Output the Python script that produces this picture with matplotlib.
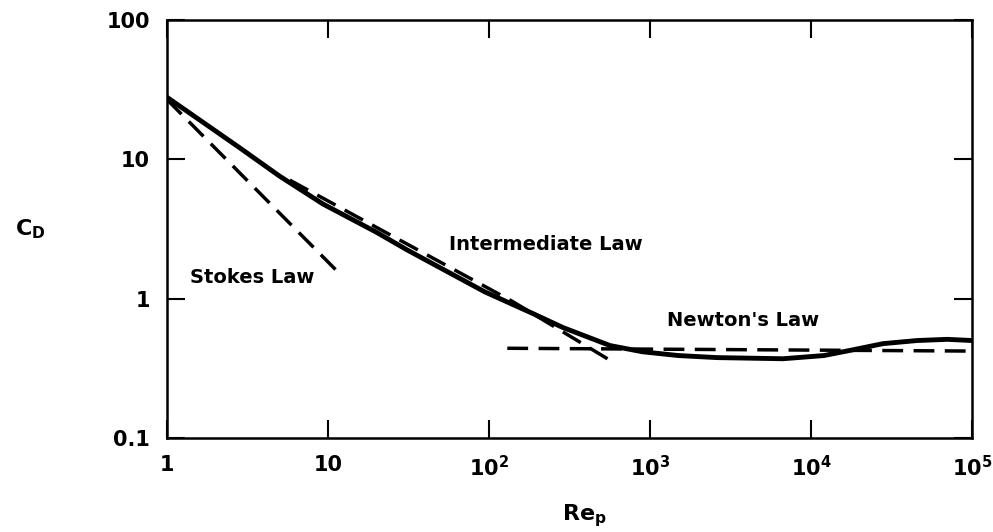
import matplotlib
matplotlib.use("Agg")
import matplotlib.pyplot as plt

# Drag coefficient curve and the three approximation laws
re_actual = [1, 2.84, 5.0, 9.3, 20, 31, 94, 188, 288, 565, 900, 1500, 2610,
             6700, 12000, 17500, 28000, 45500, 70000, 100000]
cd_actual = [28, 12.1, 7.6, 4.79, 3.0, 2.24, 1.12, 0.78, 0.62, 0.46, 0.415,
             0.39, 0.377, 0.37, 0.39, 0.425, 0.475, 0.50, 0.51, 0.50]

re_stokes = [1.0, 11.9]
cd_stokes = [27, 1.5]

re_inter = [5.8, 141, 589]
cd_inter = [7.1, 0.95, 0.35]

re_newton = [130, 100000]
cd_newton = [0.44, 0.42]

x_ticks = [1, 10, 100, 1000, 10000, 100000]
x_tick_labels = ["1", "10", "$10^{2}$", "$10^{3}$", "$10^{4}$", "$10^{5}$"]
y_ticks = [0.1, 1, 10, 100]
y_tick_labels = ["0.1", "1", "10", "100"]

plt.rcParams["font.family"] = ["DejaVu Sans"]
plt.rcParams["font.weight"] = "bold"
plt.rcParams["mathtext.fontset"] = "custom"
plt.rcParams["mathtext.rm"] = "DejaVu Sans:bold"
plt.rcParams["mathtext.it"] = "DejaVu Sans:bold"
plt.rcParams["mathtext.bf"] = "DejaVu Sans:bold"

fig = plt.figure(figsize=(9.93, 5.32), dpi=100)
ax = fig.add_axes([0.168, 0.177, 0.811, 0.785])

# Curves
ax.plot(re_actual, cd_actual, color="black", linewidth=3.5)
ax.plot(re_stokes, cd_stokes, color="black", linewidth=2.5, dashes=(6, 3))
ax.plot(re_inter, cd_inter, color="black", linewidth=2.5, dashes=(6, 3))
ax.plot(re_newton, cd_newton, color="black", linewidth=2.5, dashes=(6, 3))

ax.set_xscale("log")
ax.set_yscale("log")
ax.set_xlim(1, 100000)
ax.set_ylim(0.1, 100)

ax.set_xticks(x_ticks)
ax.set_xticklabels(x_tick_labels)
ax.set_yticks(y_ticks)
ax.set_yticklabels(y_tick_labels)
ax.minorticks_off()
ax.tick_params(direction="in", length=13, width=1.5, labelsize=15, pad=12,
               top=True, right=True)

for spine in ax.spines.values():
    spine.set_linewidth(1.8)

# Axis labels
ax.set_xlabel("Re$_{p}$", fontsize=16, fontweight="bold", va="center")
ax.xaxis.set_label_coords(0.519, -0.187)
ax.set_ylabel("C$_{D}$", fontsize=16, fontweight="bold", rotation=0,
              va="center", ha="center")
ax.yaxis.set_label_coords(-0.17, 0.5)

# Curve labels
ax.text(0.106, 0.385, "Stokes Law", transform=ax.transAxes, fontsize=14,
        fontweight="bold", ha="center", va="center")
ax.text(0.470, 0.462, "Intermediate Law", transform=ax.transAxes, fontsize=14,
        fontweight="bold", ha="center", va="center")
ax.text(0.716, 0.282, "Newton's Law", transform=ax.transAxes, fontsize=14,
        fontweight="bold", ha="center", va="center")

fig.savefig("out.png", dpi=100)
